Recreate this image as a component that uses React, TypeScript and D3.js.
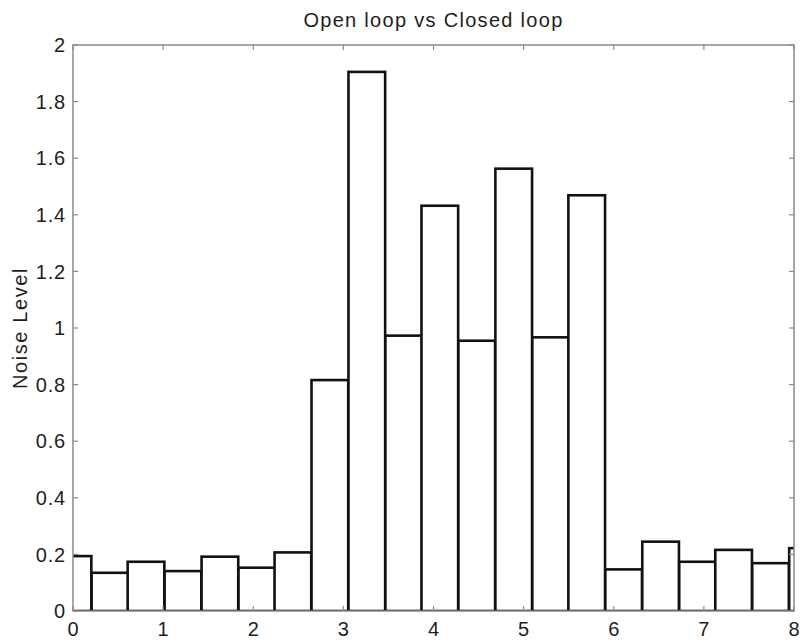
import { scaleLinear } from "d3";

const barCenters = [
  0, 0.41, 0.81, 1.22, 1.63, 2.04, 2.44, 2.85, 3.26, 3.67, 4.07,
  4.48, 4.89, 5.3, 5.7, 6.11, 6.52, 6.93, 7.33, 7.74, 8.15,
];
const noiseLevel = [
  0.194, 0.135, 0.174, 0.141, 0.192, 0.153, 0.207, 0.816, 1.905, 0.973, 1.432,
  0.955, 1.563, 0.967, 1.469, 0.147, 0.245, 0.174, 0.216, 0.169, 0.222,
];
const barWidth = 0.407;
const xTicks = [0, 1, 2, 3, 4, 5, 6, 7, 8];
const yTicks = [0, 0.2, 0.4, 0.6, 0.8, 1, 1.2, 1.4, 1.6, 1.8, 2];

const W = 802;
const H = 642;
const left = 73;
const right = 794;
const top = 45;
const bottom = 611;
const FONT = "'Liberation Sans', Arial, Helvetica, sans-serif";
const AXIS = "#8a8a8a";
const TEXT = "#1e1e1e";
const TICK = 5;

export default function App() {
  const x = scaleLinear().domain([0, 8]).range([left, right]);
  const y = scaleLinear().domain([0, 2]).range([bottom, top]);
  const fmt = (v: number) => String(Number(v.toFixed(1)));

  return (
    <svg
      width={W}
      height={H}
      style={{ position: "absolute", left: 0, top: 0, background: "#fff" }}
      fontFamily={FONT}
    >
      <defs>
        <clipPath id="plot">
          <rect x={left} y={top} width={right - left} height={bottom - top} />
        </clipPath>
      </defs>
      <rect width={W} height={H} fill="#fff" />

      <g clipPath="url(#plot)">
        {barCenters.map((c, i) => (
          <rect
            key={i}
            x={x(c - barWidth / 2)}
            y={y(noiseLevel[i])}
            width={x(barWidth) - x(0)}
            height={y(0) - y(noiseLevel[i])}
            fill="#fff"
            stroke="#111"
            strokeWidth={2.6}
          />
        ))}
      </g>

      {/* box */}
      <rect
        x={left}
        y={top}
        width={right - left}
        height={bottom - top}
        fill="none"
        stroke={AXIS}
        strokeWidth={1.5}
      />

      {xTicks.map((t) => (
        <g key={`x${t}`}>
          <line x1={x(t)} x2={x(t)} y1={bottom} y2={bottom - TICK} stroke={AXIS} strokeWidth={1.2} />
          <line x1={x(t)} x2={x(t)} y1={top} y2={top + TICK} stroke={AXIS} strokeWidth={1.2} />
          <text x={x(t)} y={bottom + 25} textAnchor="middle" fontSize={20} fill={TEXT}>
            {t}
          </text>
        </g>
      ))}

      {yTicks.map((t) => (
        <g key={`y${t}`}>
          <line x1={left} x2={left + TICK} y1={y(t)} y2={y(t)} stroke={AXIS} strokeWidth={1.2} />
          <line x1={right} x2={right - TICK} y1={y(t)} y2={y(t)} stroke={AXIS} strokeWidth={1.2} />
          <text
            x={left - 7}
            y={y(t)}
            dy="0.36em"
            textAnchor="end"
            fontSize={20}
            letterSpacing={0.8}
            fill={TEXT}
          >
            {fmt(t)}
          </text>
        </g>
      ))}

      <text
        x={(left + right) / 2}
        y={27}
        textAnchor="middle"
        fontSize={20}
        letterSpacing={1.3}
        fill={TEXT}
      >
        Open loop vs Closed loop
      </text>
      <text
        transform={`translate(27, ${(top + bottom) / 2}) rotate(-90)`}
        textAnchor="middle"
        fontSize={20}
        letterSpacing={1.6}
        fill={TEXT}
      >
        Noise Level
      </text>
    </svg>
  );
}
